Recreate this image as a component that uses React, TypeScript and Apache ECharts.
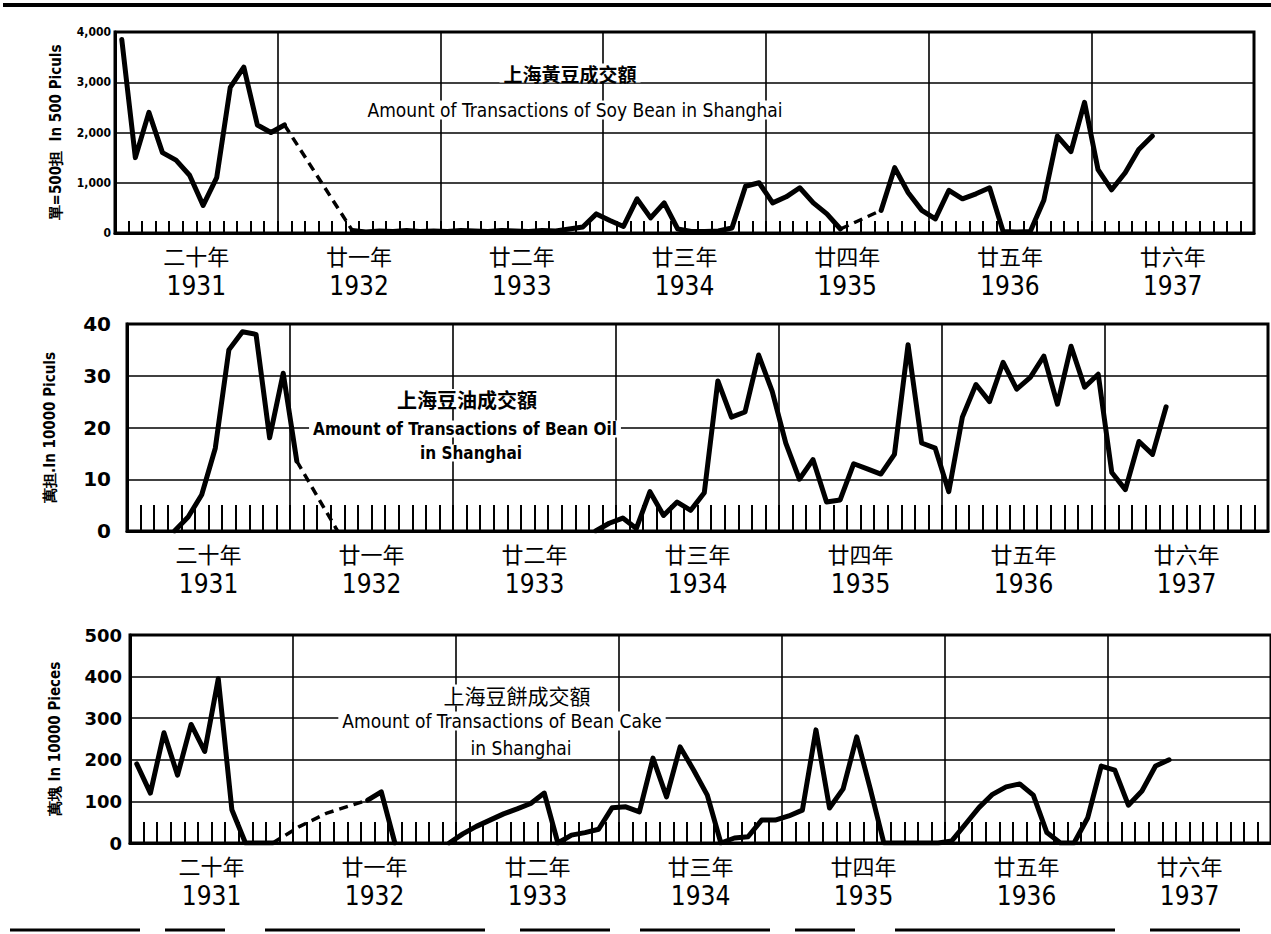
import React, { useEffect, useRef } from "react";
import * as echarts from "echarts";

// ---------- data (monthly, index 0 = Jan 1931) ----------
const yearLabelsCn = ["二十年", "廿一年", "廿二年", "廿三年", "廿四年", "廿五年", "廿六年"];
const yearLabelsEn = ["1931", "1932", "1933", "1934", "1935", "1936", "1937"];

// Soy bean, unit 500 piculs
const soyBeanValues: (number | null)[] = [
  3850, 1500, 2400, 1600, 1450, 1150, 550, 1100, 2900, 3300, 2150, 2000,
  2150, null, null, null, null, 50, 20, 40, 30, 50, 30, 40,
  30, 50, 40, 30, 50, 40, 30, 50, 40, 80, 120, 380,
  250, 130, 680, 300, 600, 80, 30, 30, 40, 100, 930, 1000,
  600, 720, 900, 600, 380, 80, null, null, 450, 1300, 800, 450,
  280, 850, 680, 780, 900, 30, 20, 30, 650, 1930, 1620, 2600,
  1260, 860, 1200, 1660, 1930,
];
const soyBeanDashed: [number, number][][] = [
  [[12, 2150], [17, 50]],
  [[53, 80], [56, 450]],
];
const soyBeanTicks = ["0", "1,000", "2,000", "3,000", "4,000"];

// Bean oil, unit 10000 piculs
const beanOilValues: (number | null)[] = [
  null, null, null, 0, 2.7, 7, 16, 35, 38.5, 38, 18, 30.5,
  13.5, null, null, null, null, null, null, null, null, null, null, null,
  null, null, null, null, null, null, null, null, null, null, 0, 1.5,
  2.5, 0.5, 7.6, 3, 5.6, 4, 7.4, 29, 22, 23, 34, 27,
  17, 10, 13.8, 5.6, 6, 13, 12, 11, 14.8, 36, 17, 16,
  7.6, 22, 28.3, 25, 32.6, 27.4, 29.7, 33.8, 24.5, 35.7, 27.8, 30.3,
  11.3, 8, 17.3, 14.8, 24,
];
const beanOilDashed: [number, number][][] = [[[12, 13.5], [15, 0]]];
const beanOilTicks = ["0", "10", "20", "30", "40"];

// Bean cake, unit 10000 pieces
const beanCakeValues: (number | null)[] = [
  190, 120, 265, 163, 285, 220, 395, 80, 0, 0, 0, null,
  null, null, null, null, null, 103, 123, 0, null, null, null, 0,
  22, 40, 55, 70, 82, 95, 120, 0, 19, 25, 33, 85,
  87, 75, 204, 111, 231, 175, 115, 0, 12, 15, 55, 55,
  65, 79, 272, 84, 130, 255, 130, 0, 0, 0, 0, 0,
  5, 45, 85, 117, 135, 142, 115, 25, 0, 0, 60, 185,
  175, 91, 125, 185, 200,
];
const beanCakeDashed: [number, number][][] = [[[10, 0], [12, 40], [14, 72], [17, 103]]];
const beanCakeTicks = ["0", "100", "200", "300", "400", "500"];

// ---------- styling ----------
const LATIN = "'Liberation Sans Narrow', 'DejaVu Sans Condensed', 'Arial Narrow', sans-serif";
const CJK = "'Noto Sans CJK SC', sans-serif";
const INK = "#000";

const panels = [
  {
    values: soyBeanValues, dashed: soyBeanDashed, ticks: soyBeanTicks,
    max: 4000, interval: 1000,
    grid: { left: 115, top: 32, width: 1139, height: 201 },
    tickLen: 12, labelSize: 12, labelMargin: 4, labelFont: "'DejaVu Sans Condensed', sans-serif",
    unit: "單=500担  In 500 Piculs", nameGap: 52, nameSize: 15,
  },
  {
    values: beanOilValues, dashed: beanOilDashed, ticks: beanOilTicks,
    max: 40, interval: 10,
    grid: { left: 127, top: 324, width: 1141, height: 207 },
    tickLen: 26, labelSize: 20, labelMargin: 16, labelFont: "'DejaVu Sans', sans-serif",
    unit: "萬担.In 10000 Piculs", nameGap: 70, nameSize: 15,
  },
  {
    values: beanCakeValues, dashed: beanCakeDashed, ticks: beanCakeTicks,
    max: 500, interval: 100,
    grid: { left: 130, top: 635, width: 1146, height: 208 },
    tickLen: 21, labelSize: 18, labelMargin: 8, labelFont: "'DejaVu Sans', sans-serif",
    unit: "萬塊 In 10000 Pieces", nameGap: 68, nameSize: 15,
  },
];

const titles = [
  { text: "上海黃豆成交額", x: 570, y: 73, size: 19, font: CJK, weight: "bold" },
  { text: "Amount of Transactions of Soy Bean in Shanghai", x: 575, y: 110, size: 19, font: LATIN, weight: "normal" },
  { text: "上海豆油成交額", x: 467, y: 399, size: 20, font: CJK, weight: "bold" },
  { text: "Amount of Transactions of Bean Oil", x: 465, y: 429, size: 17, font: LATIN, weight: "bold" },
  { text: "in Shanghai", x: 471, y: 453, size: 17, font: LATIN, weight: "bold" },
  { text: "上海豆餅成交額", x: 517, y: 695, size: 21, font: CJK, weight: "normal" },
  { text: "Amount of Transactions of Bean Cake", x: 502, y: 721, size: 19, font: LATIN, weight: "normal" },
  { text: "in Shanghai", x: 521, y: 748, size: 19, font: LATIN, weight: "normal" },
];

function buildOption() {
  const grid: any[] = [];
  const xAxis: any[] = [];
  const yAxis: any[] = [];
  const series: any[] = [];

  panels.forEach((p, k) => {
    grid.push({ ...p.grid, show: true, borderColor: INK, borderWidth: 3, containLabel: false });
    xAxis.push({
      type: "value", gridIndex: k, min: 0, max: 84, interval: 12,
      axisLine: { show: true, lineStyle: { color: INK, width: 3 } },
      axisTick: { show: true, inside: true, length: p.tickLen, lineStyle: { color: INK, width: 2 } },
      minorTick: { show: true, splitNumber: 12, length: p.tickLen, lineStyle: { color: INK, width: 2 } },
      axisLabel: { show: false },
      splitLine: { show: true, lineStyle: { color: INK, width: 1.6 } },
    });
    xAxis.push({
      type: "category", gridIndex: k, position: "bottom", data: yearLabelsEn, boundaryGap: true,
      axisLine: { show: false }, axisTick: { show: false }, splitLine: { show: false },
      axisLabel: {
        interval: 0, margin: 8, color: INK,
        formatter: (v: string, i: number) => `{cn|${yearLabelsCn[i]}}\n{yr|${v}}`,
        rich: {
          cn: { fontSize: 22, fontFamily: CJK, lineHeight: 28, color: INK },
          yr: { fontSize: 26, fontFamily: LATIN, lineHeight: 34, color: INK },
        },
      },
    });
    yAxis.push({
      type: "value", gridIndex: k, min: 0, max: p.max, interval: p.interval,
      axisLine: { show: true, lineStyle: { color: INK, width: 3 } },
      axisTick: { show: false },
      splitLine: { show: true, lineStyle: { color: INK, width: 1.6 } },
      axisLabel: {
        color: INK, fontSize: p.labelSize, fontWeight: "bold", fontFamily: p.labelFont, margin: p.labelMargin,
        formatter: (v: number) => p.ticks[Math.round(v / p.interval)] ?? "",
      },
      name: p.unit, nameLocation: "middle", nameRotate: 90, nameGap: p.nameGap,
      nameTextStyle: { color: INK, fontSize: p.nameSize, fontWeight: "bold", fontFamily: LATIN },
    });
    series.push({
      type: "line", xAxisIndex: 2 * k, yAxisIndex: k,
      data: p.values.map((v, i) => [i + 0.5, v]),
      showSymbol: false, connectNulls: false, z: 5,
      lineStyle: { color: INK, width: 5, join: "round", cap: "round" },
    });
    p.dashed.forEach((seg) => {
      series.push({
        type: "line", xAxisIndex: 2 * k, yAxisIndex: k,
        data: seg.map(([i, v]) => [i + 0.5, v]),
        showSymbol: false, z: 5,
        lineStyle: { color: INK, width: 3.5, type: [9, 6] },
      });
    });
  });

  const graphic: any[] = [
    { type: "line", shape: { x1: 3, y1: 5, x2: 1271, y2: 5 }, style: { stroke: INK, lineWidth: 4 } },
    { type: "line", shape: { x1: 10, y1: 930, x2: 1262, y2: 930 }, style: { stroke: INK, lineWidth: 3, lineDash: [130, 25, 60, 40, 220, 35, 90, 30] } },
    ...titles.map((t) => ({
      type: "text", x: t.x, y: t.y, z: 10,
      style: {
        text: t.text, fill: INK, fontSize: t.size, fontFamily: t.font, fontWeight: t.weight,
        align: "center", verticalAlign: "middle", backgroundColor: "#fff", padding: [0, 4],
      },
    })),
  ];

  return { animation: false, backgroundColor: "#fff", grid, xAxis, yAxis, series, graphic };
}

export default function App() {
  const ref = useRef<HTMLDivElement>(null);
  useEffect(() => {
    if (!ref.current) return;
    const chart = echarts.init(ref.current, null, { renderer: "svg" });
    chart.setOption(buildOption() as any);
    return () => chart.dispose();
  }, []);
  return (
    <div
      ref={ref}
      style={{ position: "absolute", left: 0, top: 0, width: 1271, height: 934, background: "#fff" }}
    />
  );
}
